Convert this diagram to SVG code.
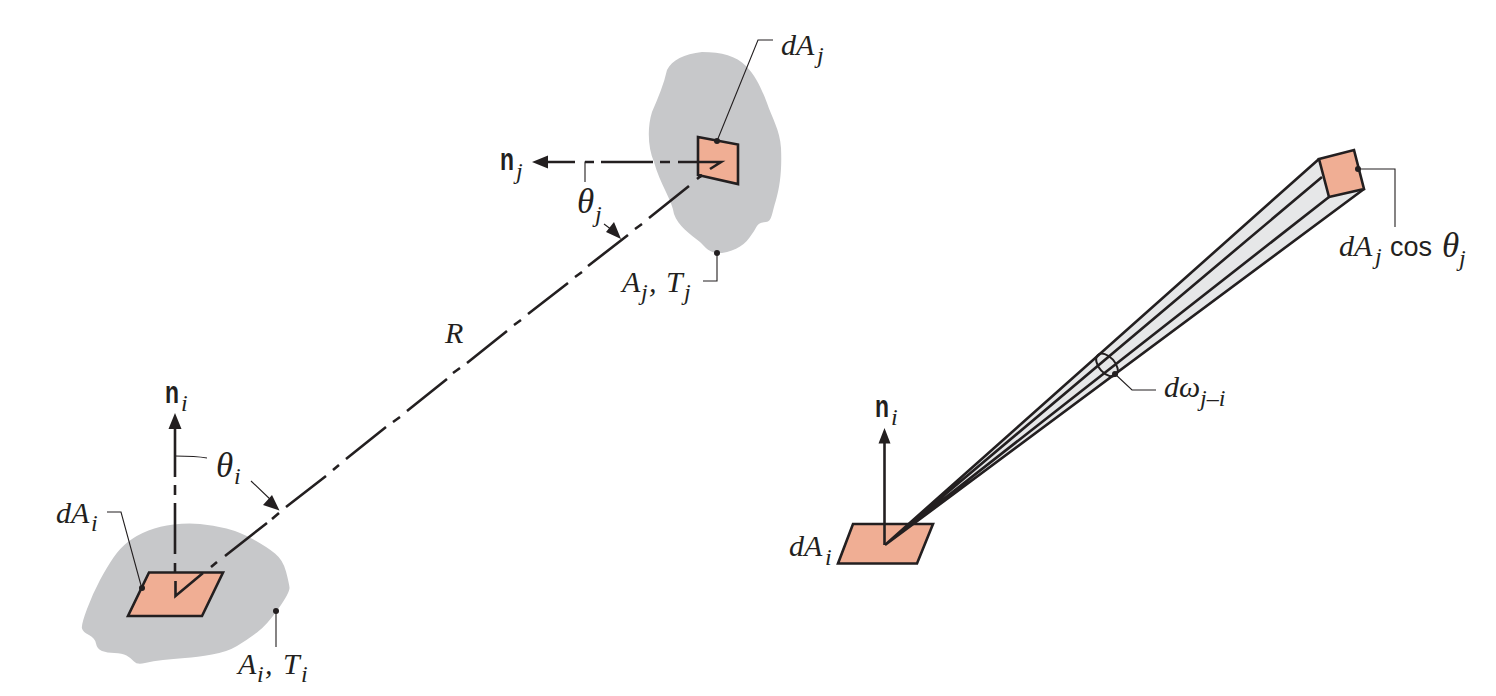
<svg xmlns="http://www.w3.org/2000/svg" width="1496" height="696" viewBox="0 0 1496 696">
<style>
.blob{fill:#c7c8ca;stroke:none}
.patch{fill:#f0ae94;stroke:#231f20;stroke-width:2.6;stroke-linejoin:miter}
.ln{fill:none;stroke:#231f20;stroke-width:2.6}
.lead{fill:none;stroke:#231f20;stroke-width:1.1}
.head,.dot{fill:#231f20;stroke:none}
.beam{fill:#e6e7e8;stroke:none}
text{fill:#231f20;font-family:"Liberation Serif",serif;font-style:italic;font-size:30px}
.sub{font-size:24px}
.th{font-size:35px}
.n{font-family:"Liberation Sans",sans-serif;font-style:normal;font-weight:bold;font-size:31px}
.cos{font-family:"Liberation Sans",sans-serif;font-style:normal;font-size:27px}
</style>
<rect width="1496" height="696" fill="#fff"/>
<g id="surface-i">
<path class="blob" d="M87 609Q81 625 82 628.500Q83 632 89 635Q95 638 96 643.500Q97 649 102 651Q107 653 114.500 653Q122 653 126.500 655.500Q131 658 134 661.500Q137 665 145 663Q153 661 163 660Q173 659 185 658Q197 657 212 654.500Q227 652 237 646Q247 640 257 632.500Q267 625 278.500 608.500Q290 592 289.500 587.500Q289 583 286 571.500Q283 560 275 553.500Q267 547 253.500 539.500Q240 532 226.500 528.500Q213 525 200 524Q187 523 173.500 524.500Q160 526 148.500 530.500Q137 535 128.500 541.500Q120 548 113.500 557.500Q107 567 100 580Q93 593 87 609Z"/>
</g>
<g id="surface-j">
<path class="blob" d="M667 70C672 60 684 54 702 52C722 52 736 56 746 66C756 76 762 90 767 103C772 118 780 130 781 148C782 170 780 186 776 200C772 212 772 222 766 222C756 223 758 226 752 234C746 244 736 251 722 253C710 254 706 248 700 242C690 234 678 226 674 214C672 200 660 184 654 162C648 148 647 128 652 112C658 98 664 84 667 70Z"/>
</g>
<g id="dAi-left">
<path class="patch" d="M149 572.500H223L202 616H128Z"/>
</g>
<g id="dAj-left">
<path class="patch" d="M698 137L738 144.500V184L698 175Z"/>
</g>
<g id="dAi-right">
<path class="patch" d="M853 524H933L917 563.500H838Z"/>
</g>
<g id="beam">
<path class="beam" d="M885 545L1319 159L1329 197L1364 189Z"/>
<path class="ln" d="M885 545L1319 159M885 545L1322 177M885 545L1329 197M885 545L1364 189"/>
<ellipse class="lead" cx="1107" cy="365" rx="13.500" ry="8" transform="rotate(48 1107 365)" style="stroke-width:2"/>
</g>
<g id="dAj-right">
<path class="patch" d="M1319 159L1354 150L1364 189L1329 197Z"/>
</g>
<g id="connectors">
<path class="ln" d="M175 425V477M175 485V495M175 503V554M175 563V572M175.500 581V596L203 573M211 567L217 562M225 556L267 523M272 519L279 513M286 507L326 476M333 470L339 465M346 459L386 427M393 422L400 417M407 411L447 379M453 373L460 368M467 363L507 331M514 325L521 320M528 314L568 283M575 277L582 272M588 266L628 235M635 229L642 224M649 218L689 186M697 179L702 175M710 169L721 162H678M670 162H660M653 162H601M594 162H585M575 162H545"/>
<path class="ln" d="M884.500 545V441"/>
<path class="head" d="M175 413L181.500 429H168.500ZM532 162L548 155.500V168.500ZM884.500 428L890.500 443.500H878.500ZM279.500 510.500L263 505L272 495ZM621 239L606 232L614 222Z"/>
<path class="lead" d="M175 456C184 456 196 456 207 458M251 481L272 501M604 224L612 230M585 182V162H592M142 589L121 512H107M276 611V647M717 141L758 40H773M717 253V281H703M1358 169H1395V227M1115 374L1132 390H1156"/>
<circle class="dot" cx="142" cy="588" r="3"/>
<circle class="dot" cx="276" cy="611" r="3"/>
<circle class="dot" cx="717" cy="141" r="3"/>
<circle class="dot" cx="717" cy="253" r="3"/>
<circle class="dot" cx="700" cy="176" r="2"/>
<circle class="dot" cx="1358" cy="169" r="3"/>
<circle class="dot" cx="1115" cy="374" r="3"/>
</g>
<g id="labels">
<text x="165" y="403" class="n" textLength="14" lengthAdjust="spacingAndGlyphs">n</text><text x="181" y="411" class="sub">i</text>
<text x="216" y="477" class="th">θ</text><text x="234" y="484" class="sub">i</text>
<text x="56" y="523">dA</text><text x="91" y="531" class="sub">i</text>
<text x="238" y="674">A</text><text x="257" y="682" class="sub">i</text><text x="265" y="674">,</text><text x="283" y="674">T</text><text x="301" y="682" class="sub">i</text>
<text x="445" y="343">R</text>
<text x="500" y="170" class="n" textLength="14" lengthAdjust="spacingAndGlyphs">n</text><text x="516" y="179" class="sub">j</text>
<text x="577" y="213" class="th">θ</text><text x="595" y="222" class="sub">j</text>
<text x="622" y="292">A</text><text x="641" y="300" class="sub">j</text><text x="649" y="292">,</text><text x="666" y="292">T</text><text x="684" y="300" class="sub">j</text>
<text x="781" y="55">dA</text><text x="817" y="63" class="sub">j</text>
<text x="1339" y="256">dA</text><text x="1375" y="264" class="sub">j</text><text x="1390" y="256" class="cos">cos</text><text x="1442" y="257" class="th">θ</text><text x="1459" y="266" class="sub">j</text>
<text x="1164" y="397">dω</text><text x="1200" y="406" class="sub">j–i</text>
<text x="875" y="417" class="n" textLength="14" lengthAdjust="spacingAndGlyphs">n</text><text x="891" y="425" class="sub">i</text>
<text x="789" y="556">dA</text><text x="825" y="565" class="sub">i</text>
</g>
</svg>
